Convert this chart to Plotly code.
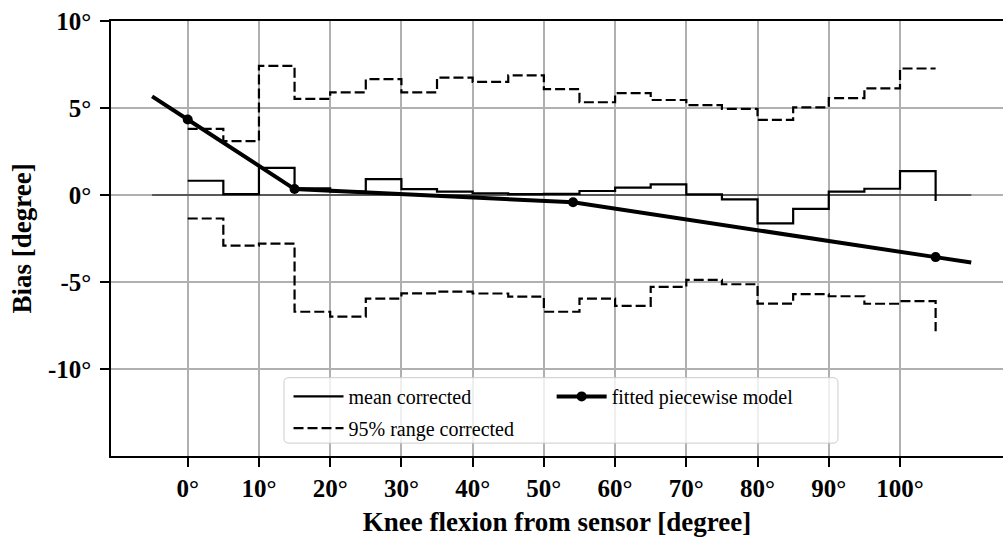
import plotly.graph_objects as go

# 5-degree bins of knee flexion (left edges); last entry closes the step
bin_start = [0, 5, 10, 15, 20, 25, 30, 35, 40, 45, 50,
             55, 60, 65, 70, 75, 80, 85, 90, 95, 100, 105]
mean_corrected = [0.82, 0.05, 1.56, 0.38, 0.20, 0.91, 0.34, 0.19, 0.10, 0.05, 0.06,
                  0.23, 0.42, 0.61, 0.04, -0.25, -1.63, -0.80, 0.19, 0.36, 1.37, -0.34]
upper_95 = [3.80, 3.10, 7.42, 5.52, 5.90, 6.66, 5.90, 6.75, 6.50, 6.87, 6.09,
            5.33, 5.86, 5.46, 5.16, 4.95, 4.32, 5.04, 5.57, 6.13, 7.27, 7.27]
lower_95 = [-1.35, -2.91, -2.79, -6.71, -6.99, -5.95, -5.65, -5.55, -5.66, -5.84, -6.71,
            -5.95, -6.37, -5.28, -4.88, -5.13, -6.24, -5.70, -5.82, -6.25, -6.10, -7.83]

# piecewise linear model: knots and its extension beyond the outer knots
knot_x = [0, 15, 54.1, 105]
knot_y = [4.34, 0.34, -0.42, -3.57]
ext_x = [-5, 0, None, 105, 110]
ext_y = [5.67, 4.34, None, -3.57, -3.88]

# zero reference line
zero_x = [-5, 110]
zero_y = [0, 0]

x_ticks = [0, 10, 20, 30, 40, 50, 60, 70, 80, 90, 100]
x_ticktext = [f"{v}°" for v in x_ticks]
y_ticks = [-10, -5, 0, 5, 10]
y_ticktext = [f"{v}°" for v in y_ticks]

SERIF = "Liberation Serif"

fig = go.Figure()

fig.add_trace(go.Scatter(x=zero_x, y=zero_y, mode="lines",
                         line=dict(color="black", width=1), showlegend=False,
                         hoverinfo="skip"))
fig.add_trace(go.Scatter(x=bin_start, y=mean_corrected, mode="lines", line_shape="hv",
                         line=dict(color="black", width=2.2),
                         name="mean corrected", legend="legend"))
fig.add_trace(go.Scatter(x=bin_start, y=upper_95, mode="lines", line_shape="hv",
                         line=dict(color="black", width=2.2, dash="10px,4px"),
                         name="95% range corrected", legend="legend2"))
fig.add_trace(go.Scatter(x=bin_start, y=lower_95, mode="lines", line_shape="hv",
                         line=dict(color="black", width=2.2, dash="10px,4px"),
                         name="95% range corrected", showlegend=False))
fig.add_trace(go.Scatter(x=ext_x, y=ext_y, mode="lines",
                         line=dict(color="black", width=4), showlegend=False,
                         connectgaps=False))
fig.add_trace(go.Scatter(x=knot_x, y=knot_y, mode="lines+markers",
                         line=dict(color="black", width=4),
                         marker=dict(color="black", size=10),
                         name="fitted piecewise model", legend="legend3"))

# legend frame (rounded, semi-transparent)
x0, x1, y0, y1 = 0.1939, 0.815, 0.0296, 0.18
rx, ry = 0.0056, 0.0114
frame = (f"M{x0+rx},{y0} L{x1-rx},{y0} Q{x1},{y0} {x1},{y0+ry} "
         f"L{x1},{y1-ry} Q{x1},{y1} {x1-rx},{y1} L{x0+rx},{y1} "
         f"Q{x0},{y1} {x0},{y1-ry} L{x0},{y0+ry} Q{x0},{y0} {x0+rx},{y0} Z")
fig.add_shape(type="path", path=frame, xref="paper", yref="paper",
              fillcolor="rgba(255,255,255,0.8)", line=dict(color="#cccccc", width=1),
              layer="above")

leg_common = dict(bgcolor="rgba(0,0,0,0)", borderwidth=0, itemwidth=50,
                  font=dict(family=SERIF, size=20, color="black"),
                  xanchor="left", yanchor="middle")

fig.update_layout(
    width=1003, height=537,
    margin=dict(l=111, r=0, t=21, b=77),
    plot_bgcolor="white", paper_bgcolor="white",
    font=dict(family=SERIF, color="black"),
    xaxis=dict(
        range=[-10.77, 114.46], tickvals=x_ticks, ticktext=x_ticktext,
        showgrid=True, gridcolor="#b0b0b0", gridwidth=1.5, zeroline=False,
        showline=True, linecolor="black", linewidth=1.5, mirror=True,
        ticks="outside", ticklen=9, tickwidth=1.5, tickcolor="black",
        ticklabelstandoff=0,
        tickfont=dict(family=SERIF, size=25, weight="bold"),
        title=dict(text="Knee flexion from sensor [degree]", standoff=16,
                   font=dict(family=SERIF, size=27, weight="bold")),
    ),
    yaxis=dict(
        range=[-15, 10], tickvals=y_ticks, ticktext=y_ticktext,
        showgrid=True, gridcolor="#b0b0b0", gridwidth=1.5, zeroline=False,
        showline=True, linecolor="black", linewidth=1.5,
        ticks="outside", ticklen=9, tickwidth=1.5, tickcolor="black",
        ticklabelstandoff=4,
        tickfont=dict(family=SERIF, size=25, weight="bold"),
        title=dict(text="Bias [degree]", standoff=8,
                   font=dict(family=SERIF, size=27, weight="bold")),
    ),
    legend=dict(x=0.199, y=0.137, **leg_common),
    legend2=dict(x=0.199, y=0.064, **leg_common),
    legend3=dict(x=0.494, y=0.137, **leg_common),
)

fig.write_html("out.html")
